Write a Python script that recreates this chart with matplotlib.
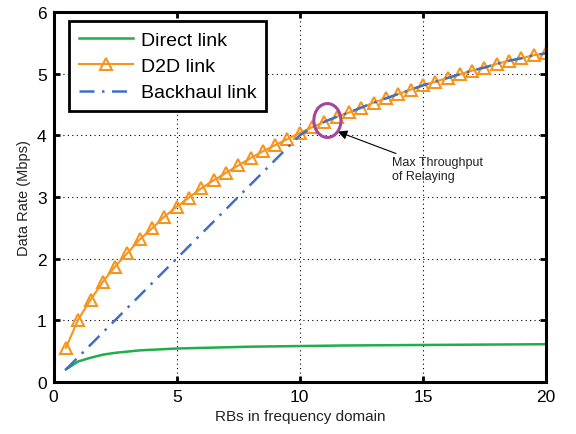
import matplotlib
matplotlib.use('Agg')
import matplotlib.pyplot as plt
from matplotlib.patches import Ellipse

plt.rcParams['font.family'] = ['Liberation Sans', 'DejaVu Sans']

# RBs (x) for the D2D / backhaul curves
rbs = [0.5, 1.0, 1.5, 2.0, 2.5, 3.0, 3.5, 4.0, 4.5, 5.0,
       5.5, 6.0, 6.5, 7.0, 7.5, 8.0, 8.5, 9.0, 9.5, 10.0,
       10.5, 11.0, 11.5, 12.0, 12.5, 13.0, 13.5, 14.0, 14.5, 15.0,
       15.5, 16.0, 16.5, 17.0, 17.5, 18.0, 18.5, 19.0, 19.5, 20.0]
d2d = [0.55, 1.01, 1.33, 1.62, 1.87, 2.09, 2.31, 2.49, 2.68, 2.84,
       2.99, 3.14, 3.27, 3.39, 3.51, 3.63, 3.74, 3.84, 3.94, 4.04,
       4.13, 4.22, 4.30, 4.37, 4.45, 4.53, 4.60, 4.67, 4.74, 4.81,
       4.87, 4.93, 4.99, 5.05, 5.10, 5.16, 5.21, 5.25, 5.30, 5.33]
backhaul = [0.20, 0.40, 0.60, 0.80, 1.00, 1.20, 1.40, 1.60, 1.80, 2.00,
            2.20, 2.40, 2.60, 2.80, 3.00, 3.20, 3.40, 3.60, 3.80, 4.00,
            4.13, 4.22, 4.30, 4.37, 4.45, 4.53, 4.60, 4.67, 4.74, 4.81,
            4.87, 4.93, 4.99, 5.05, 5.10, 5.16, 5.21, 5.25, 5.30, 5.33]

direct_x = [0.5, 1.0, 1.5, 2.0, 2.5, 3.0, 3.5, 4.0, 4.5, 5.0, 6.0, 7.0,
            8.0, 9.0, 10.0, 12.0, 14.0, 16.0, 18.0, 20.0]
direct = [0.20, 0.33, 0.39, 0.44, 0.47, 0.49, 0.51, 0.52, 0.53, 0.54, 0.55, 0.56,
          0.57, 0.575, 0.58, 0.59, 0.595, 0.60, 0.605, 0.61]

fig = plt.figure(figsize=(5.76, 4.35), dpi=100)
ax = fig.add_axes([0.093, 0.12, 0.855, 0.85])

ax.plot(direct_x, direct, color='#1fae4a', lw=1.8, label='Direct link')
ax.plot(rbs, d2d, color='#f7941d', lw=1.5, marker='^', markersize=8,
        markerfacecolor='none', markeredgewidth=1.5, label='D2D link')
ax.plot(rbs, backhaul, color='#4070c0', lw=1.8, dashes=(6, 3, 1, 3),
        label='Backhaul link')

ax.add_patch(Ellipse((11.12, 4.24), 1.1, 0.55, fill=False,
                     edgecolor='#a3479b', lw=2.2, zorder=5))
ax.annotate('Max Throughput\nof Relaying', xy=(11.54, 4.06), xytext=(13.75, 3.45),
            fontsize=9, va='center', ha='left', color='#222222',
            arrowprops=dict(arrowstyle='-|>', color='black', lw=0.8,
                            mutation_scale=14, shrinkA=0, shrinkB=0))

ax.set_xlim(0, 20)
ax.set_ylim(0, 6)
ax.set_xticks([0, 5, 10, 15, 20])
ax.set_yticks([0, 1, 2, 3, 4, 5, 6])
ax.tick_params(direction='in', top=True, right=True, labelsize=12.5,
               width=2, length=4, pad=5)
for s in ax.spines.values():
    s.set_linewidth(2.2)
ax.grid(True, linestyle=(0, (1, 3)), color='black', lw=0.8)

ax.set_xlabel('RBs in frequency domain', fontsize=11, color='#222222')
ax.set_ylabel('Data Rate (Mbps)', fontsize=10.5, color='#222222')

leg = ax.legend(loc='upper left', bbox_to_anchor=(0.031, 0.975), fontsize=14,
                fancybox=False, framealpha=1, edgecolor='black',
                handlelength=2.8, borderpad=0.5, labelspacing=0.45,
                handletextpad=0.4, borderaxespad=0)
leg.get_frame().set_linewidth(2)

fig.savefig('out.png', dpi=100)
